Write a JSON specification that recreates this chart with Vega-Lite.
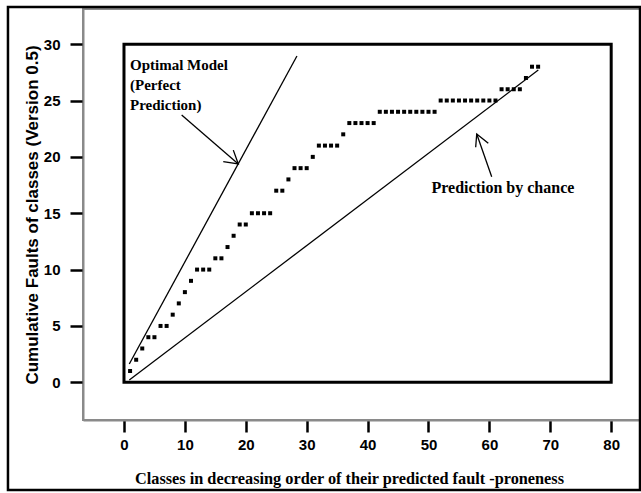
{
  "$schema": "https://vega.github.io/schema/vega-lite/v6.json",
  "width": 557,
  "height": 411,
  "autosize": {"type": "none"},
  "padding": {"left": 83, "top": 9, "right": 1, "bottom": 73},
  "background": "white",
  "config": {"view": {"stroke": "#8a8a8a", "strokeWidth": 2}, "font": "Liberation Sans"},
  "encoding": {
    "x": {
      "field": "x", "type": "quantitative",
      "scale": {"domain": [-6.73, 84.73], "nice": false, "zero": false},
      "axis": {
        "values": [0, 10, 20, 30, 40, 50, 60, 70, 80],
        "title": "Classes in decreasing order of their predicted fault -proneness",
        "grid": false, "domainColor": "#8a8a8a", "domainWidth": 2,
        "tickColor": "black", "tickWidth": 2.5, "tickSize": 12,
        "labelFont": "Liberation Sans", "labelFontWeight": "bold", "labelFontSize": 15,
        "labelColor": "black", "labelPadding": 5,
        "titleFont": "Liberation Serif", "titleFontWeight": "bold", "titleFontSize": 16.3,
        "titleColor": "black", "titlePadding": 18, "titleX": 266
      }
    },
    "y": {
      "field": "y", "type": "quantitative",
      "scale": {"domain": [-3.345, 33.12], "nice": false, "zero": false},
      "axis": {
        "values": [0, 5, 10, 15, 20, 25, 30],
        "title": "Cumulative Faults of classes (Version 0.5)",
        "grid": false, "domainColor": "#8a8a8a", "domainWidth": 2,
        "tickColor": "black", "tickWidth": 2.5, "tickSize": 13,
        "labelFont": "Liberation Sans", "labelFontWeight": "bold", "labelFontSize": 15,
        "labelColor": "black", "labelPadding": 10,
        "titleFont": "Liberation Sans", "titleFontWeight": "bold", "titleFontSize": 17,
        "titleColor": "black", "titlePadding": 2
      }
    }
  },
  "layer": [
    {
      "data": {"values": [{"x": -19.05, "x2": 84.73, "y": -9.56, "y2": 33.3}]},
      "mark": {"type": "rect", "fill": null, "fillOpacity": 0, "stroke": "black", "strokeWidth": 2.5, "clip": false},
      "encoding": {"x2": {"field": "x2"}, "y2": {"field": "y2"}}
    },
    {
      "data": {"values": [{"x": 0, "x2": 80, "y": 0, "y2": 30}]},
      "mark": {"type": "rect", "fill": null, "fillOpacity": 0, "stroke": "black", "strokeWidth": 3},
      "encoding": {"x2": {"field": "x2"}, "y2": {"field": "y2"}}
    },
    {
      "data": {"values": [
        {"seg": "optimal", "ord": 1, "x": 0.87, "y": 1.62},
        {"seg": "optimal", "ord": 2, "x": 28.4, "y": 28.95},
        {"seg": "chance", "ord": 1, "x": 0.87, "y": 0.2},
        {"seg": "chance", "ord": 2, "x": 68.03, "y": 27.7},
        {"seg": "arrow1", "ord": 1, "x": 9.47, "y": 23.72},
        {"seg": "arrow1", "ord": 2, "x": 18.77, "y": 19.37},
        {"seg": "head1", "ord": 1, "x": 16.3, "y": 19.57},
        {"seg": "head1", "ord": 2, "x": 18.77, "y": 19.37},
        {"seg": "head1", "ord": 3, "x": 17.95, "y": 20.6},
        {"seg": "arrow2", "ord": 1, "x": 60.38, "y": 18.24},
        {"seg": "arrow2", "ord": 2, "x": 57.92, "y": 22.03},
        {"seg": "head2", "ord": 1, "x": 57.75, "y": 20.85},
        {"seg": "head2", "ord": 2, "x": 57.92, "y": 22.03},
        {"seg": "head2", "ord": 3, "x": 59.82, "y": 21.2}
      ]},
      "mark": {"type": "line", "color": "black", "strokeWidth": 1.3},
      "encoding": {"detail": {"field": "seg"}, "order": {"field": "ord"}}
    },
    {
      "data": {"values": [
        {"x": 1, "y": 1}, {"x": 2, "y": 2}, {"x": 3, "y": 3}, {"x": 4, "y": 4}, {"x": 5, "y": 4},
        {"x": 6, "y": 5}, {"x": 7, "y": 5}, {"x": 8, "y": 6}, {"x": 9, "y": 7}, {"x": 10, "y": 8},
        {"x": 11, "y": 9}, {"x": 12, "y": 10}, {"x": 13, "y": 10}, {"x": 14, "y": 10}, {"x": 15, "y": 11},
        {"x": 16, "y": 11}, {"x": 17, "y": 12}, {"x": 18, "y": 13}, {"x": 19, "y": 14}, {"x": 20, "y": 14},
        {"x": 21, "y": 15}, {"x": 22, "y": 15}, {"x": 23, "y": 15}, {"x": 24, "y": 15}, {"x": 25, "y": 17},
        {"x": 26, "y": 17}, {"x": 27, "y": 18}, {"x": 28, "y": 19}, {"x": 29, "y": 19}, {"x": 30, "y": 19},
        {"x": 31, "y": 20}, {"x": 32, "y": 21}, {"x": 33, "y": 21}, {"x": 34, "y": 21}, {"x": 35, "y": 21},
        {"x": 36, "y": 22}, {"x": 37, "y": 23}, {"x": 38, "y": 23}, {"x": 39, "y": 23}, {"x": 40, "y": 23},
        {"x": 41, "y": 23}, {"x": 42, "y": 24}, {"x": 43, "y": 24}, {"x": 44, "y": 24}, {"x": 45, "y": 24},
        {"x": 46, "y": 24}, {"x": 47, "y": 24}, {"x": 48, "y": 24}, {"x": 49, "y": 24}, {"x": 50, "y": 24},
        {"x": 51, "y": 24}, {"x": 52, "y": 25}, {"x": 53, "y": 25}, {"x": 54, "y": 25}, {"x": 55, "y": 25},
        {"x": 56, "y": 25}, {"x": 57, "y": 25}, {"x": 58, "y": 25}, {"x": 59, "y": 25}, {"x": 60, "y": 25},
        {"x": 61, "y": 25}, {"x": 62, "y": 26}, {"x": 63, "y": 26}, {"x": 64, "y": 26}, {"x": 65, "y": 26},
        {"x": 66, "y": 27}, {"x": 67, "y": 28}, {"x": 68, "y": 28}
      ]},
      "mark": {"type": "square", "filled": true, "color": "black", "size": 16, "opacity": 1}
    },
    {
      "data": {"values": [
        {"label": "Optimal Model", "x": 0.99, "y": 27.7},
        {"label": "(Perfect", "x": 0.99, "y": 25.9},
        {"label": "Prediction)", "x": 0.99, "y": 24.15}
      ]},
      "mark": {"type": "text", "align": "left", "baseline": "alphabetic", "font": "Liberation Serif", "fontWeight": "bold", "fontSize": 15, "color": "black"},
      "encoding": {"text": {"field": "label"}}
    },
    {
      "data": {"values": [
        {"label": "Prediction by chance", "x": 50.5, "y": 16.8}
      ]},
      "mark": {"type": "text", "align": "left", "baseline": "alphabetic", "font": "Liberation Serif", "fontWeight": "bold", "fontSize": 16, "color": "black"},
      "encoding": {"text": {"field": "label"}}
    }
  ]
}
